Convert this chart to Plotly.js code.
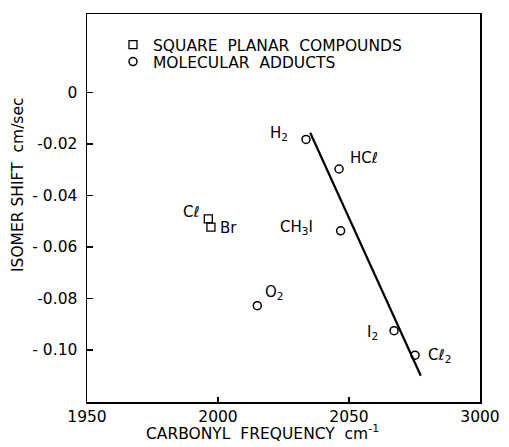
<!DOCTYPE html>
<html>
<head>
<meta charset="utf-8">
<script src="https://cdn.plot.ly/plotly-3.0.1.min.js"></script>
<style>html,body{margin:0;padding:0;background:#fff;}#chart{width:509px;height:447px;}</style>
</head>
<body>
<div id="chart"></div>
<script>
// Square planar compounds
const sqNames = ["Cℓ", "Br"];
const sqFreq = [1996.3, 1997.3];
const sqShift = [-0.0491, -0.0523];

// Molecular adducts
const adNames = ["H<sub>2</sub>", "HCℓ", "CH<sub>3</sub>I", "O<sub>2</sub>", "I<sub>2</sub>", "Cℓ<sub>2</sub>"];
const adFreq = [2033.6, 2046.2, 2046.8, 2015.0, 2067.2, 2075.2];
const adShift = [-0.0182, -0.0297, -0.0537, -0.0828, -0.0925, -0.1020];

// Fitted line end points
const fitFreq = [2035.2, 2077.4];
const fitShift = [-0.0156, -0.1100];

// Axis ticks
const xTickVals = [1950, 2000, 2050, 2100];
const xTickText = ["1950", "2000", "2050", "3000"];
const yTickVals = [0, -0.02, -0.04, -0.06, -0.08, -0.10];
const yTickText = ["0", "-0.02", "- 0.04", "- 0.06", "-0.08", "- 0.10"];

// Label offsets (px) for point labels
const sqOffsets = [[-17, 7], [18, -1]];
const adOffsets = [[-27, 6], [25, 11], [-44, 3], [17, 13], [-22, -2], [24, 0]];

const FONT = "DejaVu Sans, Arial, sans-serif";
const FS = 15.5;

const traces = [
  {
    x: sqFreq, y: sqShift, mode: "markers", type: "scatter", legend: "legend",
    name: "SQUARE\u00a0\u00a0PLANAR\u00a0\u00a0COMPOUNDS",
    marker: {symbol: "square-open", size: 8, color: "#000", line: {width: 1.3, color: "#000"}}
  },
  {
    x: adFreq, y: adShift, mode: "markers", type: "scatter", legend: "legend2",
    name: "MOLECULAR\u00a0\u00a0ADDUCTS",
    marker: {symbol: "circle-open", size: 8, color: "#000", line: {width: 1.5, color: "#000"}}
  },
  {
    x: fitFreq, y: fitShift, mode: "lines", type: "scatter",
    showlegend: false, line: {color: "#000", width: 2.2}, hoverinfo: "skip"
  }
];

const annotations = [];
sqNames.forEach((n, i) => annotations.push({
  x: sqFreq[i], y: sqShift[i], xref: "x", yref: "y", text: n, showarrow: false,
  xshift: sqOffsets[i][0], yshift: sqOffsets[i][1], font: {family: FONT, size: 15, color: "#000"}
}));
adNames.forEach((n, i) => annotations.push({
  x: adFreq[i], y: adShift[i], xref: "x", yref: "y", text: n, showarrow: false,
  xshift: adOffsets[i][0], yshift: adOffsets[i][1], font: {family: FONT, size: 15, color: "#000"}
}));
// Axis titles (placed like the original, off-centre)
annotations.push({
  xref: "paper", yref: "paper", x: (262 - 87) / 393, y: -(432 - 402) / 388,
  text: "CARBONYL\u00a0\u00a0FREQUENCY\u00a0\u00a0cm<sup>-1</sup>", showarrow: false,
  font: {family: FONT, size: FS, color: "#000"}, xanchor: "center", yanchor: "middle"
});
annotations.push({
  xref: "paper", yref: "paper", x: -(87 - 18) / 393, y: (402 - 185) / 388,
  text: "ISOMER\u00a0SHIFT\u00a0\u00a0cm/sec", showarrow: false, textangle: -90,
  font: {family: FONT, size: FS, color: "#000"}, xanchor: "center", yanchor: "middle"
});

const legendBase = {xanchor: "left", yanchor: "middle", bgcolor: "rgba(0,0,0,0)",
  font: {family: FONT, size: FS, color: "#000"}};

const layout = {
  width: 509, height: 447,
  margin: {l: 87, r: 29, t: 14, b: 45, pad: 0},
  paper_bgcolor: "#fff", plot_bgcolor: "#fff",
  font: {family: FONT, size: FS, color: "#000"},
  showlegend: true,
  legend: Object.assign({x: (113 - 87) / 393, y: (402 - 45) / 388}, legendBase),
  legend2: Object.assign({x: (113 - 87) / 393, y: (402 - 62) / 388}, legendBase),
  xaxis: {
    range: [1950, 2100], tickmode: "array", tickvals: xTickVals, ticktext: xTickText,
    ticks: "inside", ticklen: 5, tickwidth: 1.3, tickcolor: "#000",
    showline: true, linecolor: "#000", linewidth: 1.5, mirror: true,
    showgrid: false, zeroline: false, tickfont: {family: FONT, size: FS, color: "#000"}
  },
  yaxis: {
    range: [-0.1202, 0.0305], tickmode: "array", tickvals: yTickVals, ticktext: yTickText,
    ticks: "inside", ticklen: 6, tickwidth: 1.3, tickcolor: "#000",
    showline: true, linecolor: "#000", linewidth: 1.5, mirror: true,
    showgrid: false, zeroline: false, tickfont: {family: FONT, size: FS, color: "#000"},
    ticklabelstandoff: 5
  },
  annotations: annotations
};

Plotly.newPlot("chart", traces, layout, {staticPlot: true, displayModeBar: false});
</script>
</body>
</html>
